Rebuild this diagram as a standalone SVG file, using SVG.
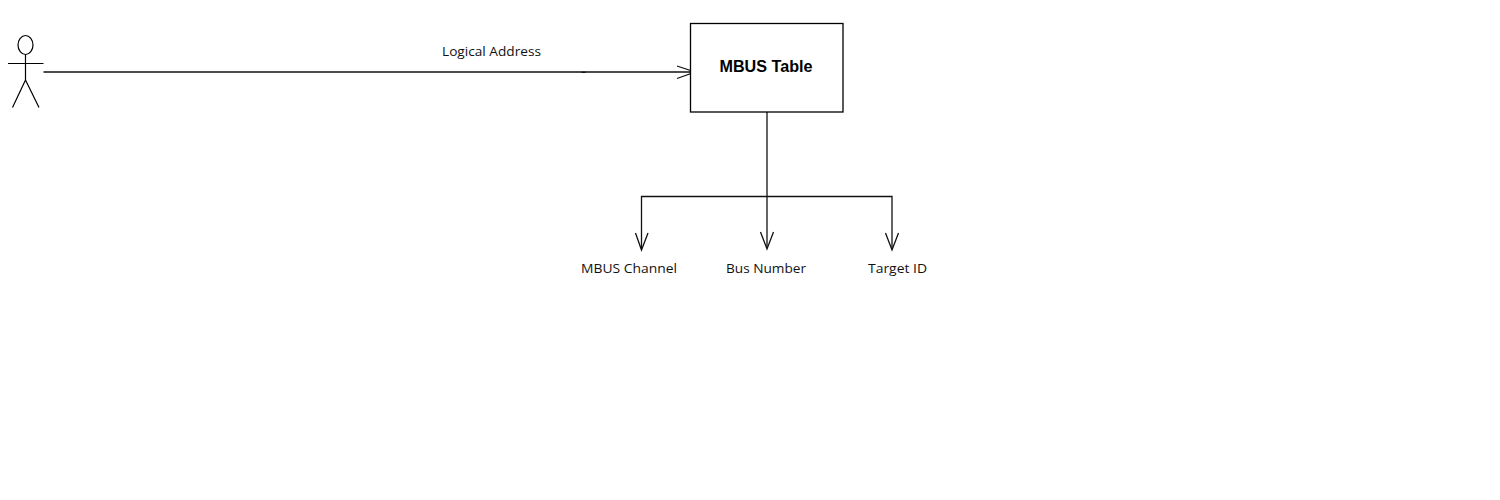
<svg xmlns="http://www.w3.org/2000/svg" width="1500" height="500" viewBox="0 0 1500 500">
<style>
.l{fill:none;stroke:#000;stroke-width:1.2}
.c{fill:none;stroke:#111;stroke-width:1.3}
.t{font-family:"Open Sans","Noto Sans","Liberation Sans",sans-serif;font-size:13.500px;fill:#111}
.b{font-family:"Liberation Sans",Arial,sans-serif;font-size:16.500px;font-weight:bold;fill:#000}
</style>
<rect width="1500" height="500" fill="#fff"/>
<g id="connectors">
<path class="c" d="M43.5 72H694"/>
<path class="c" d="M581.500 72.300H585.500"/>
<path class="c" d="M677 66L695 72L677 78.500"/>
<path class="c" d="M767 112V248"/>
<path class="c" d="M641.500 249V196.500H892V249"/>
<path class="c" d="M635.500 233L641.500 250L648 233"/>
<path class="c" d="M760.500 232L767 249L773.500 232"/>
<path class="c" d="M885.500 233L892 250L898.500 233"/>
</g>
<g id="actor">
<ellipse class="l" cx="25.500" cy="45" rx="7.500" ry="9.500"/>
<path class="l" d="M25.500 54.500V80M8 63.500H43.500M25.500 80L12.500 107.500M25.500 80L39 107.500"/>
</g>
<g id="mbus-table">
<rect x="690.500" y="23.500" width="152.500" height="88.500" fill="#fff" stroke="#000" stroke-width="1.300"/>
<text class="b" x="766" y="71.500" text-anchor="middle" textLength="93" lengthAdjust="spacingAndGlyphs">MBUS Table</text>
</g>
<g id="label-logical-address"><text class="t" x="442" y="56" textLength="99" lengthAdjust="spacingAndGlyphs">Logical Address</text></g>
<g id="label-mbus-channel"><text class="t" x="581" y="273" textLength="96" lengthAdjust="spacingAndGlyphs">MBUS Channel</text></g>
<g id="label-bus-number"><text class="t" x="726" y="273" textLength="80" lengthAdjust="spacingAndGlyphs">Bus Number</text></g>
<g id="label-target-id"><text class="t" x="868" y="273" textLength="59" lengthAdjust="spacingAndGlyphs">Target ID</text></g>
</svg>
